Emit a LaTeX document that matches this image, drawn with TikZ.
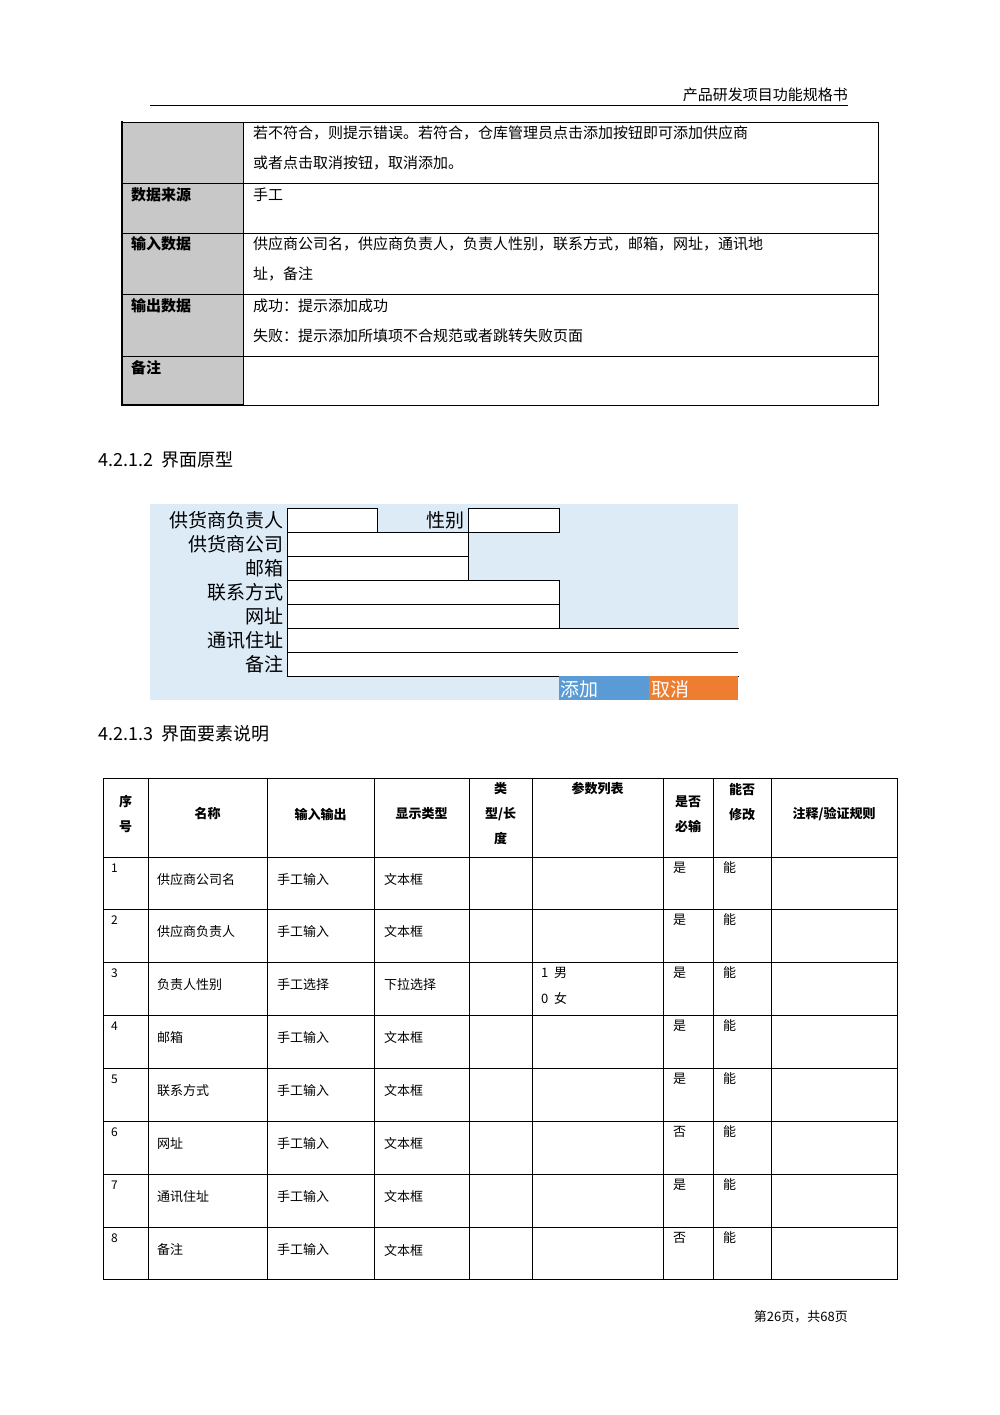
\documentclass[tikz,border=0pt]{standalone}
\usepackage{fontspec}
\setmainfont{Noto Sans CJK SC}
\newfontfamily\cjk{Noto Sans CJK SC}
\definecolor{formbg}{RGB}{221,235,247}
\definecolor{btnblue}{RGB}{91,155,213}
\definecolor{btnorange}{RGB}{237,125,49}
\definecolor{cellgray}{RGB}{200,200,200}
\begin{document}
\begin{tikzpicture}[x=1pt,y=-1pt,
  txt/.style={anchor=west,inner sep=0pt,font=\fontsize{15}{18}\selectfont},
  hd/.style={anchor=west,inner sep=0pt,font=\fontsize{15}{18}\selectfont\bfseries},
  lbl/.style={anchor=east,inner sep=1pt,font=\fontsize{19}{20}\selectfont},
  fbox/.style={draw=black,fill=white,line width=0.8pt},
  ct/.style={anchor=west,inner sep=0pt,font=\fontsize{13}{16}\selectfont},
  cth/.style={align=center,inner sep=0pt,font=\fontsize{13}{25}\selectfont\bfseries},
  sec/.style={anchor=west,inner sep=0pt,font=\fontsize{18}{20}\selectfont}]
\useasboundingbox (0,0) rectangle (1000,1415);
% header
\node[anchor=east,inner sep=0pt,font=\fontsize{15}{18}\selectfont] (hdr) at (848,95) {产品研发项目功能规格书};
\draw[line width=0.8pt] (150,105) -- (848,105);
% top table
\fill[cellgray] (122,122) rectangle (243,405);
\draw[line width=0.6pt] (122,122) rectangle (878,405);
\draw[line width=0.6pt] (243,122) -- (243,405);
\foreach \y in {183,233,294,356} \draw[line width=0.6pt] (122,\y) -- (878,\y);
\draw[line width=2pt] (122,121) -- (122,406);
\draw[line width=2pt] (122,405) -- (243,405);
\node[txt] (t1) at (253,133) {若不符合，则提示错误。若符合，仓库管理员点击添加按钮即可添加供应商};
\node[txt] (t2) at (253,163) {或者点击取消按钮，取消添加。};
\node[hd] (h1) at (131,195) {数据来源};
\node[txt] (t3) at (253,195) {手工};
\node[hd] (h2) at (131,244) {输入数据};
\node[txt] (t4) at (253,244) {供应商公司名，供应商负责人，负责人性别，联系方式，邮箱，网址，通讯地};
\node[txt] (t5) at (253,274) {址，备注};
\node[hd] (h3) at (131,306) {输出数据};
\node[txt] (t6) at (253,306) {成功：提示添加成功};
\node[txt] (t7) at (253,336) {失败：提示添加所填项不合规范或者跳转失败页面};
\node[hd] (h4) at (131,368) {备注};
% section
\node[sec] (s1) at (98,460) {4.2.1.2\ \ 界面原型};
% form
\fill[formbg] (150,504) rectangle (738,700);
\draw[fbox] (287,508) rectangle (377,532);
\draw[fbox] (468,508) rectangle (559,532);
\draw[fbox] (287,532) rectangle (468,556);
\draw[fbox] (287,556) rectangle (468,580);
\draw[fbox] (287,580) rectangle (559,604);
\draw[fbox] (287,604) rectangle (559,628);
\draw[fbox] (287,628) rectangle (738,652);
\draw[fbox] (287,652) rectangle (738,676);
\draw[draw=none,fill=white] (737.6,628.5) rectangle (739,675.5);
\node[lbl] (l1) at (285,520) {供货商负责人};
\node[lbl] (l2) at (466,520) {性别};
\node[lbl] (l3) at (285,544) {供货商公司};
\node[lbl] (l4) at (285,568) {邮箱};
\node[lbl] (l5) at (285,592) {联系方式};
\node[lbl] (l6) at (285,616) {网址};
\node[lbl] (l7) at (285,640) {通讯住址};
\node[lbl] (l8) at (285,664) {备注};
\fill[btnblue] (559,676) rectangle (649,700);
\fill[btnorange] (649,676) rectangle (738,700);
\node[anchor=west,inner sep=0pt,text=white,font=\fontsize{19}{20}\selectfont] (b1) at (560,689) {添加};
\node[anchor=west,inner sep=0pt,text=white,font=\fontsize{19}{20}\selectfont] (b2) at (651,689) {取消};
% section
\node[sec] (s2) at (98,734) {4.2.1.3\ \ 界面要素说明};
% lower table
\draw[line width=0.7pt] (103,778) rectangle (897,1279);
\foreach \x in {148,267,374,469,532,663,713,771} \draw[line width=0.6pt] (\x,778) -- (\x,1279);
\foreach \y in {857,909,962,1015,1068,1121,1174,1227} \draw[line width=0.6pt] (103,\y) -- (897,\y);
\node[cth] (c1) at (125.5,814) {序\\号};
\node[cth] (c2) at (207.5,814) {名称};
\node[cth] (c3) at (320.5,814) {输入输出};
\node[cth] (c4) at (421.5,814) {显示类型};
\node[cth] (c5) at (500.5,814) {类\\型/长\\度};
\node[cth] (c6) at (597.5,789) {参数列表};
\node[cth] (c7) at (688,814) {是否\\必输};
\node[cth] (c8) at (742,802) {能否\\修改};
\node[cth] (c9) at (834,814) {注释/验证规则};
\foreach \i/\y/\n/\io/\ty/\req in {1/857/供应商公司名/手工输入/文本框/是,2/909/供应商负责人/手工输入/文本框/是,3/962/负责人性别/手工选择/下拉选择/是,4/1015/邮箱/手工输入/文本框/是,5/1068/联系方式/手工输入/文本框/是,6/1121/网址/手工输入/文本框/否,7/1174/通讯住址/手工输入/文本框/是,8/1227/备注/手工输入/文本框/否}{
  \node[ct,font=\fontsize{12}{14}\selectfont] (n\i) at (111,\y+11) {\i};
  \node[ct] (m\i) at (157,\y+23) {\n};
  \node[ct] (io\i) at (277,\y+23) {\io};
  \node[ct] (ty\i) at (384,\y+23) {\ty};
  \node[ct] (rq\i) at (673,\y+11) {\req};
  \node[ct] (md\i) at (723,\y+11) {能};
}
\node[ct] (p1) at (541,973) {1\ \ 男};
\node[ct] (p2) at (541,998) {0\ \ 女};
% footer
\node[anchor=east,inner sep=0pt,font=\fontsize{13}{15}\selectfont] (ftr) at (848,1317) {第26页，共68页};
\end{tikzpicture}
\end{document}
